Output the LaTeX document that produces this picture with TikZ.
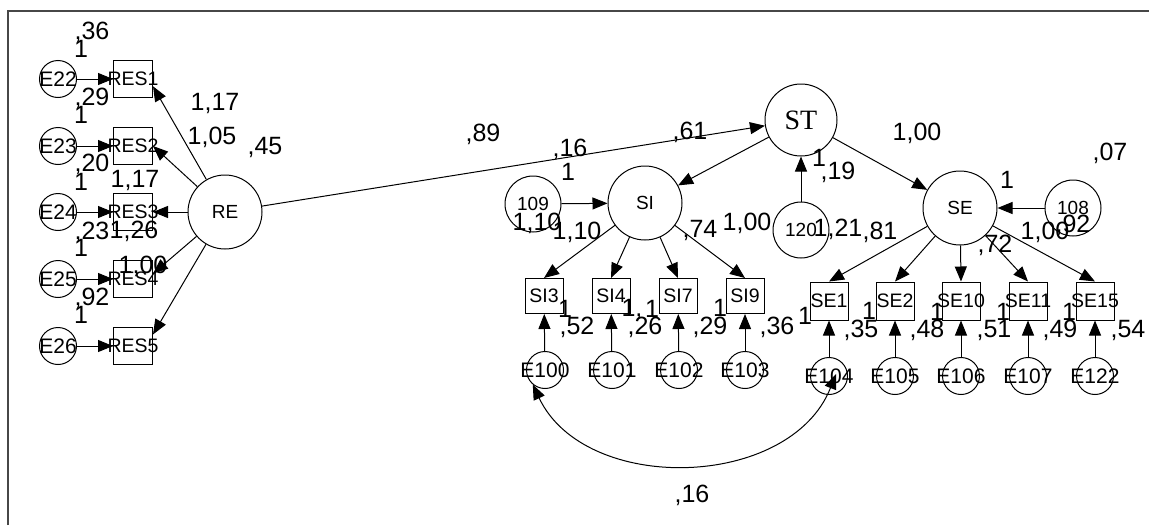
\documentclass[tikz,border=0pt]{standalone}
\usepackage{fontspec}
\setmainfont{Liberation Sans}
\newfontfamily\stfont{Liberation Serif}
\usetikzlibrary{arrows.meta}
\begin{document}
\begin{tikzpicture}[x=1pt,y=-1pt,
  lat/.style={circle,draw,line width=1pt,minimum size=74pt,inner sep=0pt,font=\fontsize{19}{19}\selectfont},
  dist/.style={circle,draw,line width=1pt,minimum size=56pt,inner sep=0pt,font=\fontsize{19}{19}\selectfont},
  err/.style={circle,draw,line width=1pt,minimum size=37pt,inner sep=0pt,label={[font=\fontsize{21}{21}\selectfont,inner sep=0pt]center:#1}},
  obs/.style={rectangle,draw,line width=1pt,minimum width=39pt,minimum height=37pt,inner sep=0pt,label={[font=\fontsize{19.5}{19.5}\selectfont,inner sep=0pt]center:#1}},
  lbl/.style={inner sep=0pt,font=\fontsize{25}{25}\selectfont},
  arr/.style={-{Triangle[length=15pt,width=12pt]},line width=1pt},
  dbl/.style={{Triangle[length=15pt,width=12pt]}-{Triangle[length=15pt,width=12pt]},line width=1pt},
]
\useasboundingbox (0,0) rectangle (1149,525);
\draw[line width=2.5pt,black!72] (8,525) -- (8,11) -- (1149,11);

% left block
\foreach \n/\y in {22/79,23/146,24/212,25/279,26/346}{
  \node[err=E\n] (E\n) at (58,\y) {};
}
\node[obs=RES1] (RES1) at (133,79) {};
\node[obs=RES2] (RES2) at (133,146) {};
\node[obs=RES3] (RES3) at (133,212) {};
\node[obs=RES4] (RES4) at (133,279) {};
\node[obs=RES5] (RES5) at (133,346) {};
\node[lat] (RE) at (225,212) {RE};
\draw[arr] (E22) -- (RES1);
\draw[arr] (E23) -- (RES2);
\draw[arr] (E24) -- (RES3);
\draw[arr] (E25) -- (RES4);
\draw[arr] (E26) -- (RES5);
\draw[arr] (RE) -- (RES1.-20);
\draw[arr] (RE) -- (RES2.east);
\draw[arr] (RE) -- (RES3.east);
\draw[arr] (RE) -- (RES4.15);
\draw[arr] (RE) -- (RES5.30);

% structural part
\node[lat,font=\stfont\fontsize{28}{28}\selectfont,minimum size=72pt] (ST) at (801,120) {ST};
\node[lat] (SI) at (645,203) {SI};
\node[lat] (SE) at (960,208) {SE};
\node[dist] (D109) at (533,204) {109};
\node[dist] (D120) at (801,230) {120};
\node[dist] (D108) at (1073,208) {108};
\draw[arr] (RE) -- (ST);
\draw[arr] (ST) -- (SI);
\draw[arr] (ST) -- (SE);
\draw[arr] (D109) -- (SI);
\draw[arr] (D120) -- (ST);
\draw[arr] (D108) -- (SE);

% SI indicators
\foreach \n/\x/\e/\ex in {3/544/100/545,4/611/101/612,7/678/102/679,9/745/103/745}{
  \node[obs=SI\n,minimum width=38pt,minimum height=35pt] (SI\n) at (\x,296) {};
  \node[err=E\e] (E\e) at (\ex,370) {};
  \draw[arr] (SI) -- (SI\n.north);
  \draw[arr] (E\e) -- (SI\n);
}
% SE indicators
\foreach \n/\x/\e in {1/829/104,2/895/105,10/961/106,11/1028/107,15/1095/122}{
  \node[obs=SE\n,minimum width=38pt,minimum height=38pt] (SE\n) at (\x,301) {};
  \node[err=E\e] (E\e) at (\x,376) {};
  \draw[arr] (SE) -- (SE\n.north);
  \draw[arr] (E\e) -- (SE\n);
}
\coordinate (c104) at (836,374);
\draw[dbl] (E100.-130) .. controls (585,495) and (790,490) .. (c104);

% labels left
\node[lbl] (v22) at (92,32) {,36};  \node[lbl] (w22) at (81,49) {1};
\node[lbl] (v23) at (92,98) {,29};  \node[lbl] (w23) at (81,115) {1};
\node[lbl] (v24) at (92,164) {,20}; \node[lbl] (w24) at (81,182) {1};
\node[lbl] (v25) at (92,232) {,23}; \node[lbl] (w25) at (81,248) {1};
\node[lbl] (v26) at (92,298) {,92}; \node[lbl] (w26) at (81,315) {1};
\node[lbl] (l1) at (215,103) {1,17};
\node[lbl] (l2) at (212,137) {1,05};
\node[lbl] (l3) at (265,147) {,45};
\node[lbl] (l4) at (135,180) {1,17};
\node[lbl] (l5) at (134,231) {1,26};
\node[lbl] (l6) at (143,266) {1,00};

% labels middle
\node[lbl] (m1) at (483,134) {,89};
\node[lbl] (m2) at (570,149) {,16};
\node[lbl] (m3) at (568,172) {1};
\node[lbl] (m4) at (690,132) {,61};
\node[lbl] (m5) at (537,223) {1,10};
\node[lbl] (m6) at (577,232) {1,10};
\node[lbl] (m7) at (700,230) {,74};
\node[lbl] (m8) at (747,223) {1,00};
\node[lbl] (m9) at (819,158) {1};
\node[lbl] (m10) at (838,172) {,19};
\node[lbl] (m11) at (838,229) {1,21};
\node[lbl] (m12) at (880,232) {,81};
\node[lbl] (m13) at (917,133) {1,00};
\node[lbl] (m14) at (1007,180) {1};
\node[lbl] (m15) at (1110,153) {,07};
\node[lbl] (m16) at (1045,232) {1,00};
\node[lbl] (m17) at (1073,225) {,92};
\node[lbl] (m18) at (995,245) {,72};

% indicator labels
\node[lbl] (a1) at (565,309) {1};  \node[lbl] (b1) at (577,327) {,52};
\node[lbl] (a2) at (632,309) {1,};  \node[lbl] (b2) at (645,327) {,26};
\node[lbl] (a3) at (652,309) {1};  \node[lbl] (b3) at (710,327) {,29};
\node[lbl] (a4) at (720,308) {1};  \node[lbl] (b4) at (777,327) {,36};
\node[lbl] (a5) at (805,316) {1};  \node[lbl] (b5) at (861,330) {,35};
\node[lbl] (a6) at (869,311) {1};  \node[lbl] (b6) at (927,330) {,48};
\node[lbl] (a7) at (937,312) {1};  \node[lbl] (b7) at (994,330) {,51};
\node[lbl] (a8) at (1003,312) {1}; \node[lbl] (b8) at (1060,330) {,49};
\node[lbl] (a9) at (1069,312) {1}; \node[lbl] (b9) at (1128,330) {,54};
\node[lbl] (cv) at (692,495) {,16};
\end{tikzpicture}
\end{document}
